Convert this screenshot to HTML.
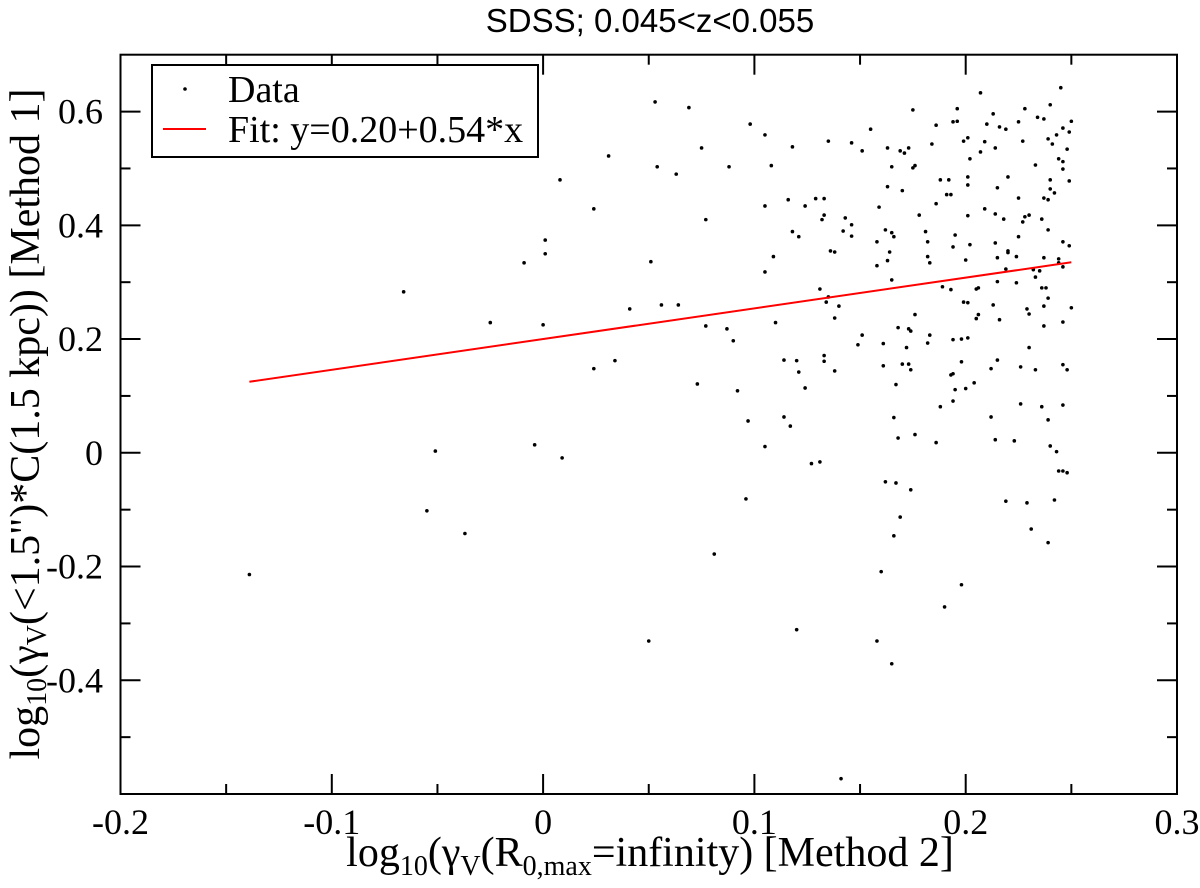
<!DOCTYPE html>
<html><head><meta charset="utf-8"><style>
html,body{margin:0;padding:0;background:#fff;}
svg{display:block;}
text{font-family:"Liberation Serif",serif;fill:#000;}
</style></head><body>
<svg id="chart" width="1200" height="888" viewBox="0 0 1200 888" xmlns="http://www.w3.org/2000/svg">
<text x="650" y="32" text-anchor="middle" style="font-family:'Liberation Sans',sans-serif;font-size:33px">SDSS; 0.045&lt;z&lt;0.055</text>
<rect x="120.5" y="54.7" width="1056.5" height="739.3" fill="none" stroke="#000" stroke-width="2"/>
<g id="ticks"></g>
<g id="points"></g>
<line id="fitline" stroke="#ff0000" stroke-width="2"/>
<g>
<rect x="152" y="65" width="386" height="92" fill="#fff" stroke="#000" stroke-width="2"/>
<circle cx="185" cy="89" r="1.8" fill="#000"/>
<text x="228" y="102" style="font-size:38px">Data</text>
<line x1="163" y1="129" x2="206" y2="129" stroke="#ff0000" stroke-width="2"/>
<text x="228" y="142" style="font-size:38px">Fit: y=0.20+0.54*x</text>
</g>
<text x="650" y="866" text-anchor="middle" style="font-size:42px">log<tspan dy="9" style="font-size:28px">10</tspan><tspan dy="-9">(γ</tspan><tspan dy="9" style="font-size:28px">V</tspan><tspan dy="-9">(R</tspan><tspan dy="9" style="font-size:28px">0,max</tspan><tspan dy="-9">=infinity) [Method 2]</tspan></text>
<text transform="translate(39,424) rotate(-90)" text-anchor="middle" style="font-size:42px">log<tspan dy="7" style="font-size:28px">10</tspan><tspan dy="-7">(γ</tspan><tspan dy="7" style="font-size:28px">V</tspan><tspan dy="-7">(&lt;1.5")*C(1.5 kpc)) [Method 1]</tspan></text>
</svg>
<script>
const xTickValues=[-0.2,-0.1,0,0.1,0.2,0.3];
const xTickLabels=["-0.2","-0.1","0","0.1","0.2","0.3"];
const xMinorValues=[-0.15,-0.05,0.05,0.15,0.25];
const yTickValues=[-0.4,-0.2,0,0.2,0.4,0.6];
const yTickLabels=["-0.4","-0.2","0","0.2","0.4","0.6"];
const yMinorValues=[-0.5,-0.3,-0.1,0.1,0.3,0.5];
const fitIntercept=0.20;
const fitSlope=0.54;
const fitRange=[-0.139,0.25];
const dataX=[0.245,0.207,0.175,0.196,0.240,0.228,0.213,0.234,0.237,0.194,0.196,0.186,0.210,0.225,0.216,0.219,0.250,0.246,0.249,0.155,0.243,0.239,0.241,0.146,0.201,0.199,0.209,0.227,0.184,0.151,0.163,0.169,0.171,0.173,0.207,0.214,0.248,0.202,0.244,0.246,0.246,0.233,0.165,0.176,0.175,0.220,0.188,0.192,0.201,0.201,0.240,0.249,0.163,0.170,0.215,0.191,0.193,0.240,0.242,0.237,0.239,0.225,0.186,0.159,0.209,0.178,0.201,0.214,0.218,0.143,0.228,0.227,0.230,0.236,0.146,0.142,0.146,0.162,0.165,0.166,0.181,0.195,0.239,0.225,0.158,0.182,0.214,0.202,0.194,0.246,0.249,0.164,0.220,0.220,0.224,0.182,0.183,0.215,0.163,0.200,0.237,0.244,0.244,0.158,0.246,0.219,0.232,0.235,0.233,0.165,0.215,0.224,0.189,0.193,0.205,0.206,0.236,0.238,0.239,0.199,0.201,0.213,0.229,0.237,0.250,0.230,0.176,0.206,0.205,0.216,0.237,0.246,0.168,0.173,0.174,0.151,0.149,0.183,0.182,0.161,0.194,0.198,0.201,0.172,0.230,0.161,0.170,0.173,0.174,0.198,0.215,0.212,0.226,0.233,0.246,0.248,0.193,0.194,0.167,0.204,0.195,0.200,0.194,0.188,0.226,0.236,0.246,0.166,0.212,0.239,0.168,0.176,0.186,0.214,0.223,0.240,0.243,0.244,0.246,0.248,0.162,0.167,0.174,0.219,0.229,0.242,0.169,0.231,0.166,0.239,0.160,0.198,0.190,0.158,0.165,0.141,0.053,0.069,0.098,0.105,0.135,0.075,0.118,0.054,0.063,0.088,0.108,0.116,0.129,0.133,0.105,0.124,0.133,0.132,0.077,0.118,0.121,0.136,0.138,0.051,0.109,0.105,0.131,0.135,0.134,0.140,0.056,0.064,0.041,0.138,0.110,0.077,0.087,0.090,0.114,0.120,0.133,0.133,0.121,0.138,0.073,0.092,0.124,0.114,0.117,0.097,0.105,0.127,0.131,0.096,0.031,0.008,0.024,0.001,0.001,-0.009,-0.066,-0.025,0.000,0.024,0.034,-0.051,-0.004,0.009,-0.055,-0.037,-0.139,0.081,0.050,0.120];
const dataY=[0.642,0.633,0.603,0.605,0.612,0.605,0.596,0.590,0.587,0.582,0.583,0.576,0.578,0.582,0.573,0.569,0.583,0.571,0.564,0.569,0.559,0.552,0.543,0.545,0.554,0.548,0.547,0.548,0.543,0.531,0.536,0.531,0.527,0.536,0.529,0.536,0.534,0.517,0.517,0.512,0.499,0.506,0.503,0.505,0.501,0.485,0.480,0.480,0.485,0.471,0.480,0.478,0.468,0.461,0.466,0.454,0.454,0.464,0.457,0.448,0.445,0.448,0.438,0.432,0.429,0.418,0.417,0.420,0.411,0.413,0.415,0.406,0.418,0.411,0.401,0.390,0.381,0.392,0.387,0.380,0.389,0.383,0.392,0.380,0.371,0.371,0.369,0.366,0.362,0.371,0.364,0.353,0.355,0.352,0.345,0.345,0.334,0.343,0.338,0.339,0.343,0.341,0.334,0.329,0.327,0.323,0.322,0.320,0.309,0.304,0.301,0.299,0.292,0.287,0.288,0.290,0.290,0.290,0.272,0.265,0.264,0.260,0.253,0.258,0.255,0.244,0.243,0.243,0.236,0.234,0.223,0.230,0.220,0.218,0.214,0.207,0.190,0.207,0.193,0.192,0.199,0.200,0.202,0.185,0.185,0.153,0.156,0.156,0.146,0.160,0.163,0.148,0.151,0.146,0.155,0.146,0.137,0.139,0.120,0.123,0.111,0.113,0.091,0.081,0.086,0.081,0.084,0.062,0.063,0.058,0.026,0.032,0.018,0.023,0.021,0.012,0.002,-0.032,-0.032,-0.035,-0.051,-0.053,-0.065,-0.085,-0.088,-0.083,-0.113,-0.134,-0.146,-0.158,-0.209,-0.232,-0.271,-0.331,-0.371,-0.573,0.617,0.607,0.578,0.559,0.548,0.536,0.538,0.503,0.490,0.503,0.505,0.445,0.447,0.447,0.434,0.434,0.418,0.410,0.410,0.389,0.380,0.355,0.353,0.336,0.345,0.318,0.288,0.274,0.265,0.258,0.260,0.260,0.253,0.237,0.229,0.223,0.218,0.197,0.163,0.162,0.171,0.161,0.142,0.144,0.121,0.109,0.114,0.063,0.047,0.056,0.011,-0.019,-0.016,-0.081,0.522,0.480,0.429,0.374,0.350,0.334,0.283,0.229,0.225,0.148,0.162,0.003,0.014,-0.009,-0.102,-0.142,-0.214,-0.178,-0.331,-0.311];

const NS="http://www.w3.org/2000/svg";
const L=120.5,R=1177,T=54.7,B=794;
function X(v){return 543.1+v*2113;}
function Y(v){return 452.8-v*568.7;}

const tg=document.getElementById('ticks');
function line(x1,y1,x2,y2,name){
  const l=document.createElementNS(NS,'line');
  l.setAttribute('x1',x1);l.setAttribute('y1',y1);l.setAttribute('x2',x2);l.setAttribute('y2',y2);
  l.setAttribute('stroke','#000');l.setAttribute('stroke-width','2');
  
  
  tg.appendChild(l);
}
function label(x,y,txt,anchor,name){
  const t=document.createElementNS(NS,'text');
  t.setAttribute('x',x);t.setAttribute('y',y);t.setAttribute('text-anchor',anchor);
  t.setAttribute('style','font-size:36px');
  t.textContent=txt;
  
  
  tg.appendChild(t);
}
xTickValues.forEach((v,i)=>{
  const x=X(v);
  line(x,B,x,B-20,'x-major-tick');
  line(x,T,x,T+20,'x-major-tick-top');
  label(x,834,xTickLabels[i],'middle','x-tick-label');
});
xMinorValues.forEach(v=>{
  const x=X(v);
  line(x,B,x,B-10,'x-minor-tick');
  line(x,T,x,T+10,'x-minor-tick-top');
});
yTickValues.forEach((v,i)=>{
  const y=Y(v);
  line(L,y,L+20,y,'y-major-tick');
  line(R,y,R-20,y,'y-major-tick-right');
  label(103,y+12,yTickLabels[i],'end','y-tick-label');
});
yMinorValues.forEach(v=>{
  const y=Y(v);
  line(L,y,L+10,y,'y-minor-tick');
  line(R,y,R-10,y,'y-minor-tick-right');
});

const pg=document.getElementById('points');
for(let i=0;i<dataX.length;i++){
  const c=document.createElementNS(NS,'circle');
  c.setAttribute('cx',X(dataX[i]));
  c.setAttribute('cy',Y(dataY[i]));
  c.setAttribute('r','1.8');
  c.setAttribute('fill','#000');
  
  
  pg.appendChild(c);
}
const fl=document.getElementById('fitline');
fl.setAttribute('x1',X(fitRange[0]));
fl.setAttribute('y1',Y(fitIntercept+fitSlope*fitRange[0]));
fl.setAttribute('x2',X(fitRange[1]));
fl.setAttribute('y2',Y(fitIntercept+fitSlope*fitRange[1]));
</script>
</body></html>
